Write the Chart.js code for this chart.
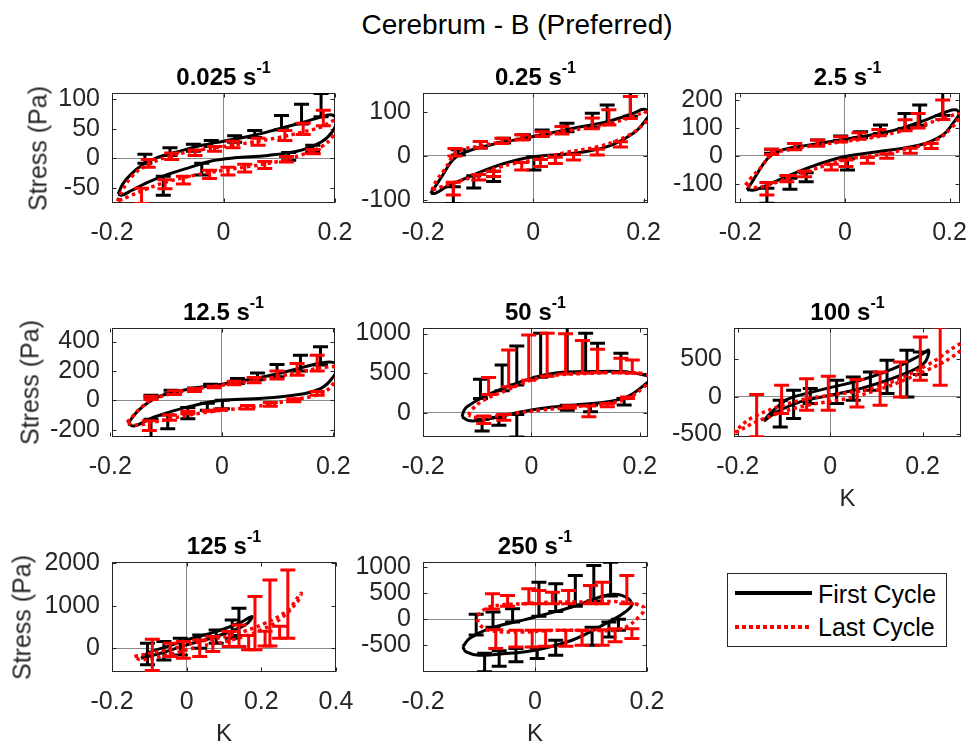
<!DOCTYPE html>
<html><head><meta charset="utf-8">
<script src="https://cdn.jsdelivr.net/npm/chart.js@4.4.1/dist/chart.umd.min.js"></script>
<style>
html,body{margin:0;padding:0;background:#fff;width:974px;height:741px;overflow:hidden;font-family:"Liberation Sans",Arial,Helvetica,sans-serif;color:#000}
#wrap{position:relative;width:974px;height:741px;overflow:hidden}
canvas{position:absolute}
.txt{position:absolute;white-space:nowrap;line-height:1}
.sub{font-weight:bold;font-size:24px;text-align:center;color:#000}
.sup{font-size:16px;position:relative;top:-12px}
</style></head><body><div id="wrap"></div>
<script>
// ---------------- data ----------------
const rateLabels = ['0.025', '0.25', '2.5', '12.5', '50', '100', '125', '250'];
const xTicksStd = [-0.2, 0, 0.2];
const xTicks125 = [-0.2, 0, 0.2, 0.4];
const p1YTicks = [-50, 0, 50, 100];
const p2YTicks = [-100, 0, 100];
const p3YTicks = [-100, 0, 100, 200];
const p4YTicks = [-200, 0, 200, 400];
const p5YTicks = [0, 500, 1000];
const p6YTicks = [-500, 0, 500];
const p7YTicks = [0, 1000, 2000];
const p8YTicks = [-500, 0, 500, 1000];

// 0.025 s^-1
const p1First = [[-0.189,-60],[-0.18,-42],[-0.165,-26],[-0.147,-12],[-0.117,2],[-0.075,13],[-0.039,22],[0,29],[0.05,38],[0.1,50],[0.14,60],[0.176,70],[0.195,73],[0.203,64],[0.196,46],[0.176,28],[0.14,14],[0.08,5],[0.02,1],[-0.02,-4],[-0.06,-15],[-0.1,-27],[-0.135,-40],[-0.165,-54],[-0.183,-62],[-0.189,-60]];
const p1Last = [[-0.19,-72],[-0.183,-56],[-0.162,-28],[-0.138,-12],[-0.1,3],[-0.05,13],[0,20],[0.05,27],[0.098,35],[0.14,44],[0.176,53],[0.2,64],[0.205,55],[0.195,36],[0.176,20],[0.14,6],[0.098,-5],[0.05,-13],[0,-20],[-0.05,-28],[-0.1,-39],[-0.14,-52],[-0.17,-64],[-0.19,-72]];
const p1FirstErr = [[-0.141,-8,7],[-0.096,5,18],[-0.054,12,24],[-0.022,20,30],[0.02,27,38],[0.056,35,47],[0.104,48,72],[0.14,58,91],[0.175,70,109],[-0.108,-62,-30],[-0.039,-28,-8],[0.117,-3,10],[0.16,10,22]];
const p1LastErr = [[-0.135,-15,-2],[-0.093,-2,9],[-0.051,5,14],[-0.016,12,20],[0.017,18,29],[0.062,22,34],[0.11,30,47],[0.143,40,59],[0.179,55,81],[-0.147,-76,-50],[-0.105,-51,-36],[-0.072,-43,-30],[-0.025,-34,-20],[0.008,-28,-15],[0.038,-23,-10],[0.074,-17,-5],[0.113,-6,3],[0.161,8,15]];

// 0.25 s^-1
const p2First = [[-0.186,-85],[-0.178,-70],[-0.165,-45],[-0.145,-8],[-0.12,10],[-0.078,25],[0,44],[0.073,63],[0.134,78],[0.182,97],[0.2,106],[0.21,98],[0.204,82],[0.182,52],[0.134,21],[0.073,6],[0,-2],[-0.06,-20],[-0.108,-43],[-0.157,-70],[-0.178,-85],[-0.186,-85]];
const p2Last = [[-0.184,-78],[-0.175,-55],[-0.16,-30],[-0.139,8],[-0.1,22],[-0.05,33],[0,44],[0.073,59],[0.134,72],[0.182,90],[0.205,100],[0.212,92],[0.2,72],[0.17,45],[0.12,22],[0.06,8],[0,-9],[-0.06,-25],[-0.108,-47],[-0.157,-66],[-0.184,-78]];
const p2FirstErr = [[-0.136,2,14],[-0.096,18,33],[-0.054,30,40],[-0.018,38,48],[0.016,46,59],[0.061,55,74],[0.107,65,97],[0.134,72,116],[0.176,90,145],[-0.145,-108,-70],[-0.108,-73,-45],[-0.072,-58,-35],[0.001,-32,-2]];
const p2LastErr = [[-0.142,0,17],[-0.096,18,33],[-0.057,28,40],[-0.021,36,48],[0.016,44,55],[0.052,50,67],[0.107,62,86],[0.137,70,105],[0.176,85,135],[-0.145,-89,-60],[-0.099,-55,-42],[-0.072,-47,-35],[-0.021,-32,-15],[0.013,-24,-8],[0.04,-17,-3],[0.073,-9,3],[0.116,2,15],[0.158,20,32]];

// 2.5 s^-1
const p3First = [[-0.187,-121],[-0.178,-95],[-0.165,-55],[-0.148,-10],[-0.13,15],[-0.1,30],[-0.064,40],[0,60],[0.05,75],[0.1,95],[0.156,130],[0.194,158],[0.212,165],[0.218,150],[0.207,118],[0.187,75],[0.143,39],[0.062,15],[0,-2],[-0.064,-38],[-0.127,-86],[-0.171,-121],[-0.187,-121]];
const p3Last = [[-0.19,-104],[-0.18,-80],[-0.16,-40],[-0.14,5],[-0.1,25],[-0.064,36],[0,52],[0.05,65],[0.1,85],[0.156,115],[0.2,142],[0.219,150],[0.215,128],[0.206,105],[0.175,57],[0.124,27],[0.062,4],[0,-14],[-0.064,-50],[-0.127,-92],[-0.17,-113],[-0.19,-104]];
const p3FirstErr = [[-0.14,10,24],[-0.096,25,45],[-0.052,38,57],[-0.008,55,71],[0.03,65,87],[0.068,80,111],[0.115,98,152],[0.143,110,182],[0.187,145,227],[-0.149,-169,-115],[-0.105,-119,-80],[-0.074,-92,-60],[0.005,-50,-10]];
const p3LastErr = [[-0.14,5,24],[-0.096,22,45],[-0.052,35,57],[-0.008,50,69],[0.027,60,83],[0.065,72,95],[0.115,90,129],[0.14,100,152],[0.187,130,200],[-0.149,-139,-95],[-0.111,-92,-70],[-0.077,-74,-55],[-0.026,-50,-30],[0.002,-38,-14],[0.043,-26,-5],[0.08,-8,8],[0.125,10,28],[0.165,27,45]];

// 12.5 s^-1
const p4First = [[-0.168,-160],[-0.162,-125],[-0.15,-70],[-0.13,-10],[-0.11,30],[-0.061,75],[0,110],[0.082,165],[0.141,220],[0.18,255],[0.2,258],[0.208,235],[0.2,160],[0.177,80],[0.129,34],[0.058,11],[0,0],[-0.061,-45],[-0.121,-114],[-0.157,-175],[-0.168,-160]];
const p4Last = [[-0.17,-150],[-0.16,-110],[-0.145,-50],[-0.121,11],[-0.061,68],[0,102],[0.082,148],[0.141,193],[0.189,227],[0.207,216],[0.2,114],[0.177,45],[0.123,0],[0.058,-45],[0,-68],[-0.061,-102],[-0.121,-148],[-0.157,-170],[-0.17,-150]];
const p4FirstErr = [[-0.127,15,34],[-0.091,45,68],[-0.049,70,84],[-0.02,95,109],[0.028,115,148],[0.064,140,186],[0.099,160,243],[0.141,200,307],[0.177,240,364],[-0.127,-255,-130],[-0.097,-193,-100],[-0.061,-125,-50],[-0.026,-68,-20],[0.001,-57,0]];
const p4LastErr = [[-0.127,5,27],[-0.085,40,64],[-0.049,60,80],[-0.014,85,95],[0.022,105,130],[0.058,120,155],[0.099,145,200],[0.135,170,250],[0.171,200,307],[-0.13,-205,-140],[-0.094,-136,-100],[-0.061,-91,-75],[-0.023,-75,-70],[-0.002,-68,-60],[0.046,-60,-35],[0.087,-40,-15],[0.129,-10,10],[0.171,35,60]];

// 50 s^-1
const p5First = [[-0.128,-51],[-0.125,20],[-0.119,76],[-0.088,203],[-0.045,329],[0,435],[0.048,506],[0.109,519],[0.171,519],[0.208,477],[0.219,435],[0.208,350],[0.177,203],[0.14,139],[0.078,97],[0.017,55],[-0.033,-8],[-0.076,-72],[-0.113,-101],[-0.128,-51]];
const p5Last = [[-0.116,-30],[-0.11,40],[-0.088,160],[-0.045,287],[0,414],[0.048,477],[0.109,498],[0.171,506],[0.208,489],[0.22,426],[0.208,329],[0.177,181],[0.14,118],[0.078,76],[0.017,34],[-0.033,-8],[-0.076,-51],[-0.1,-59],[-0.116,-30]];
const p5FirstErr = [[-0.094,180,422],[-0.054,280,603],[-0.027,350,844],[0.017,450,1004],[0.066,505,1089],[0.1,515,1004],[0.122,518,878],[0.165,515,751],[-0.091,-228,-80],[-0.06,-156,-60],[-0.027,-304,-20],[0.066,34,95],[0.109,13,100],[0.171,100,181]];
const p5LastErr = [[-0.079,230,447],[-0.042,330,793],[-0.005,410,983],[0.029,460,1004],[0.063,490,996],[0.094,500,911],[0.122,505,802],[0.165,505,688],[0.186,500,667],[-0.088,-135,-40],[-0.051,-93,-20],[0.07,60,90],[0.106,-51,85],[0.14,76,118],[0.177,181,200]];

// 100 s^-1
const p6First = [[-0.144,-320],[-0.13,-222],[-0.1,-60],[-0.079,0],[0,124],[0.065,222],[0.137,378],[0.195,556],[0.213,622],[0.202,444],[0.152,289],[0.065,111],[0,22],[-0.065,-67],[-0.115,-200],[-0.141,-311],[-0.144,-320]];
const p6Last = [[-0.21,-480],[-0.166,-267],[-0.065,-44],[0,22],[0.101,133],[0.209,422],[0.285,720],[0.285,630],[0.209,356],[0.065,22],[-0.065,-133],[-0.152,-311],[-0.21,-490],[-0.21,-480]];
const p6FirstErr = [[-0.108,-400,-44],[-0.079,-289,89],[-0.043,-89,111],[0.014,-89,222],[0.05,-44,267],[0.087,89,333],[0.123,44,489],[0.166,0,622],[0.195,300,600]];
const p6LastErr = [[-0.159,-533,31],[-0.105,-222,156],[-0.051,-178,244],[-0.004,-178,276],[0.058,-133,231],[0.108,-111,333],[0.152,0,467],[0.195,222,800],[0.238,156,933]];

// 125 s^-1
const p7First = [[-0.122,-235],[-0.1,-100],[-0.052,39],[0,196],[0.079,392],[0.14,588],[0.175,745],[0.157,549],[0.079,275],[0,78],[-0.07,-118],[-0.122,-235]];
const p7Last = [[-0.14,-196],[-0.052,-39],[0.035,157],[0.122,314],[0.21,588],[0.271,902],[0.306,1294],[0.297,1098],[0.253,706],[0.21,471],[0.122,196],[0.035,39],[-0.052,-157],[-0.122,-275],[-0.14,-196]];
const p7FirstErr = [[-0.105,-392,118],[-0.061,-275,157],[-0.017,-157,235],[0.035,0,314],[0.079,118,431],[0.122,235,667],[0.14,300,941]];
const p7LastErr = [[-0.092,-525,212],[-0.044,-196,118],[-0.009,-235,157],[0.035,-196,196],[0.07,-78,275],[0.114,39,392],[0.14,39,549],[0.183,-39,1216],[0.223,55,1608],[0.271,235,1843],[0.166,-39,300],[0.21,55,400],[0.249,235,520]];

// 250 s^-1
const p8First = [[-0.129,-529],[-0.117,-369],[-0.082,-178],[-0.023,-19],[0,45],[0.066,236],[0.126,459],[0.155,459],[0.173,299],[0.161,140],[0.126,-83],[0.066,-401],[0,-592],[-0.052,-656],[-0.1,-688],[-0.123,-624],[-0.129,-529]];
const p8Last = [[-0.103,76],[-0.082,236],[-0.023,299],[0.037,331],[0.096,331],[0.155,331],[0.194,236],[0.191,108],[0.155,-178],[0.096,-210],[0.037,-210],[-0.023,-242],[-0.082,-210],[-0.1,-83],[-0.103,76]];
const p8FirstErr = [[-0.105,-300,96],[-0.075,-150,140],[-0.04,-50,204],[0.007,60,713],[0.037,150,682],[0.072,250,841],[0.105,350,1032],[0.135,450,1096],[-0.09,-1006,-650],[-0.064,-898,-600],[-0.034,-815,-560],[0.004,-752,-550],[0.037,-688,-400],[0.102,-497,-150],[0.132,-338,-50],[0.149,-210,0]];
const p8LastErr = [[-0.076,200,490],[-0.049,250,459],[-0.011,300,586],[0.007,300,554],[0.031,300,522],[0.06,300,554],[0.099,300,650],[0.12,300,713],[0.164,300,841],[-0.07,-561,-200],[-0.034,-529,-210],[-0.005,-529,-210],[0.019,-516,-210],[0.055,-516,-210],[0.084,-497,-210],[0.12,-497,-200],[0.143,-430,-180],[0.173,-369,-180]];

// ---------------- layout ----------------
const FONT = '"Liberation Sans", Arial, Helvetica, sans-serif';
Chart.defaults.font.family = FONT;
const panels = [
  {box:[112,93,223,110], xr:[-0.2,0.2],    yr:[-75,110],    xt:xTicksStd, yt:p1YTicks, first:p1First, last:p1Last, fe:p1FirstErr, le:p1LastErr, ylab:38, xlab:false},
  {box:[423,93,225,110], xr:[-0.2,0.208],  yr:[-107,143],   xt:xTicksStd, yt:p2YTicks, first:p2First, last:p2Last, fe:p2FirstErr, le:p2LastErr, ylab:0,  xlab:false},
  {box:[735,93,225,110], xr:[-0.21,0.22],  yr:[-168,225],   xt:xTicksStd, yt:p3YTicks, first:p3First, last:p3Last, fe:p3FirstErr, le:p3LastErr, ylab:0,  xlab:false},
  {box:[112,328,223,109],xr:[-0.197,0.203],yr:[-250,492],   xt:xTicksStd, yt:p4YTicks, first:p4First, last:p4Last, fe:p4FirstErr, le:p4LastErr, ylab:30, xlab:false},
  {box:[423,328,225,109],xr:[-0.2,0.215],  yr:[-305,1070],  xt:xTicksStd, yt:p5YTicks, first:p5First, last:p5Last, fe:p5FirstErr, le:p5LastErr, ylab:0,  xlab:false},
  {box:[734,328,227,109],xr:[-0.208,0.283],yr:[-535,920],   xt:xTicksStd, yt:p6YTicks, first:p6First, last:p6Last, fe:p6FirstErr, le:p6LastErr, ylab:0,  xlab:true},
  {box:[112,562,224,110],xr:[-0.2,0.4],    yr:[-560,2030],  xt:xTicks125, yt:p7YTicks, first:p7First, last:p7Last, fe:p7FirstErr, le:p7LastErr, ylab:22, xlab:true},
  {box:[423,562,224,110],xr:[-0.2,0.2],    yr:[-1010,1100], xt:xTicksStd, yt:p8YTicks, first:p8First, last:p8Last, fe:p8FirstErr, le:p8LastErr, ylab:0,  xlab:true}
];

const wrap = document.getElementById('wrap');
function addDiv(html, css, cls) {
  const d = document.createElement('div');
  d.className = 'txt' + (cls ? ' ' + cls : '');
  d.innerHTML = html;
  Object.assign(d.style, css);
  wrap.appendChild(d);
  return d;
}

const framePlugin = {
  id: 'frame',
  beforeDatasetsDraw(chart) {
    const {ctx, chartArea: a, scales: {x, y}} = chart;
    ctx.save();
    ctx.strokeStyle = '#262626';
    ctx.lineWidth = 1;
    const L = Math.round(a.left) + 0.5, R = Math.round(a.right) - 0.5, T = Math.round(a.top) + 0.5, B = Math.round(a.bottom) - 0.5;
    ctx.strokeRect(L, T, R - L, B - T);
    ctx.beginPath();
    x.ticks.forEach(t => { const p = Math.round(x.getPixelForValue(t.value)) + 0.5; ctx.moveTo(p, B); ctx.lineTo(p, B - 4); ctx.moveTo(p, T); ctx.lineTo(p, T + 4); });
    y.ticks.forEach(t => { const p = Math.round(y.getPixelForValue(t.value)) + 0.5; ctx.moveTo(L, p); ctx.lineTo(L + 4, p); ctx.moveTo(R, p); ctx.lineTo(R - 4, p); });
    ctx.stroke();
    ctx.restore();
  }
};
const errPlugin = {
  id: 'errbars',
  afterDatasetDraw(chart, args) {
    const ds = chart.data.datasets[args.index];
    if (!ds.errorBars) return;
    const {ctx, chartArea: a, scales: {x, y}} = chart;
    ctx.save();
    ctx.beginPath();
    ctx.rect(a.left, a.top, a.right - a.left, a.bottom - a.top);
    ctx.clip();
    ctx.strokeStyle = ds.errColor;
    ctx.lineWidth = 3;
    ctx.lineCap = 'butt';
    ds.errorBars.forEach(([xv, lo, hi]) => {
      const px = x.getPixelForValue(xv), pl = y.getPixelForValue(lo), ph = y.getPixelForValue(hi);
      ctx.beginPath();
      ctx.moveTo(px, pl); ctx.lineTo(px, ph);
      ctx.moveTo(px - 7.5, pl); ctx.lineTo(px + 7.5, pl);
      ctx.moveTo(px - 7.5, ph); ctx.lineTo(px + 7.5, ph);
      ctx.stroke();
    });
    ctx.restore();
  }
};

const ML = 100, MR = 40, MT = 12, MB = 50;
const fmt = v => (v === 0 ? '0' : String(v));
const gridColor = ctx => (ctx.tick && ctx.tick.value === 0 ? '#8a8a8a' : 'rgba(0,0,0,0)');

panels.forEach((p, i) => {
  const [bl, bt, bw, bh] = p.box;
  const c = document.createElement('canvas');
  c.width = ML + bw + MR; c.height = MT + bh + MB;
  c.style.left = (bl - ML) + 'px'; c.style.top = (bt - MT) + 'px';
  c.style.width = c.width + 'px'; c.style.height = c.height + 'px';
  wrap.appendChild(c);
  new Chart(c, {
    type: 'scatter',
    data: {datasets: [
      {label: 'First Cycle', data: p.first.map(([x, y]) => ({x, y})), showLine: true, borderColor: '#000000', borderWidth: 3, pointRadius: 0, tension: 0.4, fill: false, order: 2, errorBars: p.fe, errColor: '#000000'},
      {label: 'Last Cycle', data: p.last.map(([x, y]) => ({x, y})), showLine: true, borderColor: '#ff0000', borderWidth: 3.5, borderDash: [3.5, 3.5], pointRadius: 0, tension: 0.4, fill: false, order: 1, errorBars: p.le, errColor: '#ff0000'}
    ]},
    options: {
      responsive: false, animation: false, devicePixelRatio: 1, events: [],
      layout: {padding: {left: 0, top: MT, right: MR, bottom: 0}},
      plugins: {legend: {display: false}, tooltip: {enabled: false}, title: {display: false}},
      scales: {
        x: {
          type: 'linear', position: 'bottom', min: p.xr[0], max: p.xr[1],
          afterBuildTicks: s => { s.ticks = p.xt.map(v => ({value: v})); },
          afterFit: s => { s.height = MB; s.paddingLeft = 0; s.paddingRight = 0; },
          grid: {color: gridColor, lineWidth: 1, drawTicks: false},
          border: {display: false},
          ticks: {padding: 15, color: '#262626', font: {size: 25, family: FONT}, maxRotation: 0, autoSkip: false, callback: v => fmt(v)}
        },
        y: {
          type: 'linear', position: 'left', min: p.yr[0], max: p.yr[1],
          afterBuildTicks: s => { s.ticks = p.yt.map(v => ({value: v})); },
          afterFit: s => { s.width = ML; s.paddingTop = 0; s.paddingBottom = 0; },
          grid: {color: gridColor, lineWidth: 1, drawTicks: false},
          border: {display: false},
          ticks: {padding: 12, color: '#262626', font: {size: 25, family: FONT}, autoSkip: false, callback: v => fmt(v)}
        }
      }
    },
    plugins: [framePlugin, errPlugin]
  });
  // subplot title
  addDiv(rateLabels[i] + ' s<span class="sup">-1</span>', {left: bl + 'px', top: (bt - 8 - 20.3) + 'px', width: bw + 'px'}, 'sub');
  if (p.ylab) {
    addDiv('Stress (Pa)', {left: (p.ylab - 90) + 'px', top: (bt + bh / 2 - 12.5) + 'px', width: '180px', textAlign: 'center', fontSize: '25px', lineHeight: '25px', transform: 'rotate(-90deg)', color: '#262626'});
  }
  if (p.xlab) {
    addDiv('K', {left: bl + 'px', top: (bt + bh + 52 - 3.5) + 'px', width: bw + 'px', textAlign: 'center', fontSize: '24px', color: '#262626'});
  }
});

// main title
addDiv('Cerebrum - B (Preferred)', {left: '217px', top: '11px', width: '600px', textAlign: 'center', fontSize: '28px'});

// legend
addDiv('', {left: '727px', top: '573px', width: '220px', height: '74px', border: '1px solid #262626', boxSizing: 'border-box', background: '#fff'});
addDiv('', {left: '735px', top: '591px', width: '77px', height: '4px', background: '#000'});
addDiv('', {left: '735px', top: '625px', width: '77px', height: '4px', background: 'repeating-linear-gradient(to right, #ff0000 0px, #ff0000 4px, rgba(0,0,0,0) 4px, rgba(0,0,0,0) 7px)'});
addDiv('First Cycle', {left: '818px', top: '582px', fontSize: '25px'});
addDiv('Last Cycle', {left: '818px', top: '615px', fontSize: '25px'});
</script></body></html>
